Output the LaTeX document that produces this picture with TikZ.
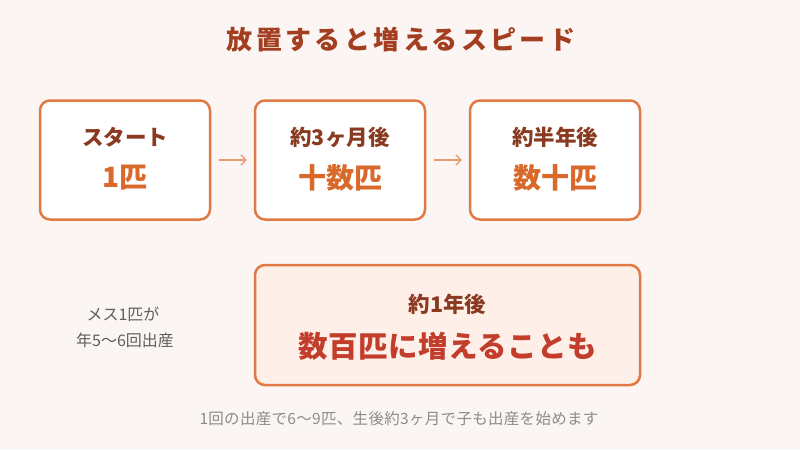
\documentclass[tikz,border=0pt]{standalone}
\usepackage{fontspec}
\setmainfont{Noto Sans CJK JP}
\usetikzlibrary{arrows.meta}
\definecolor{bg}{HTML}{FBF6F3}
\definecolor{boxline}{HTML}{E07A45}
\definecolor{titlec}{HTML}{A43E20}
\definecolor{labelc}{HTML}{8A3A20}
\definecolor{valc}{HTML}{D9692A}
\definecolor{bigred}{HTML}{C23D2C}
\definecolor{softfill}{HTML}{FEF0E8}
\definecolor{arrowc}{HTML}{E89A70}
\definecolor{grayc}{HTML}{5F5F5F}
\definecolor{footc}{HTML}{8C8C8C}
\tikzset{
  stagebox/.style={draw=boxline, line width=2.5pt, rounded corners=10pt, fill=white, inner sep=0pt},
  lbl/.style={inner sep=0pt, font=\fontsize{21.5}{25}\selectfont\bfseries, text=labelc},
  val/.style={inner sep=0pt, font=\fontsize{28}{32}\selectfont\bfseries, text=valc},
  flow/.style={draw=arrowc, line width=1.2pt, -{Straight Barb[length=5pt,width=10pt]}, shorten <=8pt, shorten >=7pt},
  note/.style={inner sep=0pt, font=\fontsize{16}{19}\selectfont, text=grayc}
}
\begin{document}
\begin{tikzpicture}[x=1pt,y=-1pt]
\useasboundingbox (0,0) rectangle (800,450);
\fill[bg] (0,0) rectangle (800,450);
\node[inner sep=0pt, font=\fontsize{26}{30}\selectfont\bfseries\addfontfeatures{LetterSpace=13}, text=titlec] (title) at (401,40) {放置すると増えるスピード};
% stage boxes
\node[stagebox, minimum width=170pt, minimum height=119pt] (b1) at (125,160) {};
\node[stagebox, minimum width=170pt, minimum height=119pt] (b2) at (340,160) {};
\node[stagebox, minimum width=170pt, minimum height=119pt] (b3) at (555,160) {};
\node[lbl] (l1) at (125,137) {スタート};
\node[val] (v1) at (125,178) {1匹};
\node[lbl] (l2) at (340,137) {約3ヶ月後};
\node[val] (v2) at (340,178) {十数匹};
\node[lbl] (l3) at (555,137) {約半年後};
\node[val] (v3) at (555,178) {数十匹};
\draw[flow] (b1.east) -- (b2.west);
\draw[flow] (b2.east) -- (b3.west);
% bottom box
\node[stagebox, fill=softfill, minimum width=385pt, minimum height=120pt] (b4) at (447.5,325) {};
\node[lbl] (l4) at (447.5,304) {約1年後};
\node[inner sep=0pt, font=\fontsize{29.5}{34}\selectfont\bfseries\addfontfeatures{LetterSpace=1.5}, text=bigred] (v4) at (447.5,346) {数百匹に増えることも};
% left note
\node[note] (n1) at (123,314) {メス1匹が};
\node[note] (n2) at (125,340) {年5〜6回出産};
% footer
\node[inner sep=0pt, font=\fontsize{15.5}{18}\selectfont\addfontfeatures{LetterSpace=2}, text=footc] (foot) at (399,419) {1回の出産で6〜9匹、生後約3ヶ月で子も出産を始めます};
\end{tikzpicture}
\end{document}
